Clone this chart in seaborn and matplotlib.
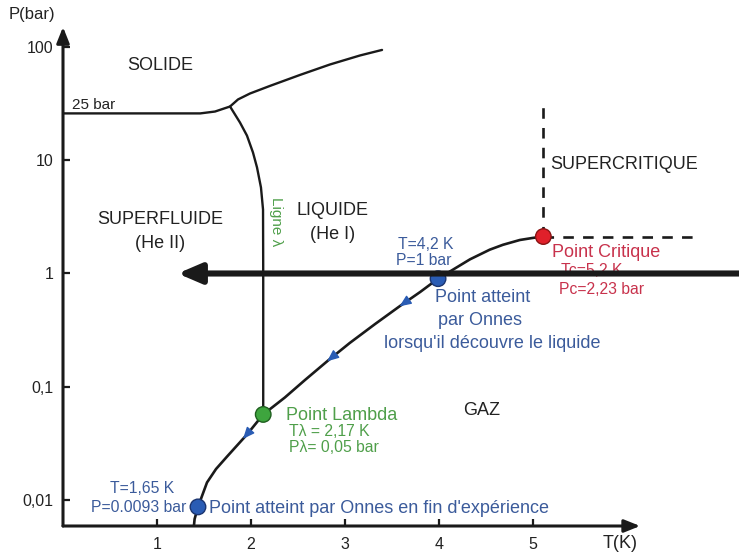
import matplotlib
matplotlib.use("Agg")
import matplotlib.pyplot as plt
from matplotlib.ticker import NullLocator, FixedLocator, FixedFormatter
import numpy as np
import pandas as pd
import seaborn as sns

# liquid/gas coexistence curve (T in K, P in bar)
vap_T = [1.39, 1.40, 1.436, 1.532, 1.628, 1.745, 1.957, 2.13, 2.36, 2.574, 2.82, 3.05,
         3.32, 3.585, 3.80, 3.99, 4.33, 4.54, 4.68, 4.86, 5.00, 5.11]
vap_P = [0.0056, 0.0068, 0.0087, 0.0143, 0.0188, 0.0242, 0.0379, 0.057, 0.0804, 0.1147,
         0.1706, 0.2434, 0.358, 0.5165, 0.687, 0.90, 1.334, 1.623, 1.792, 1.976, 2.062, 2.12]

# lambda line (He I / He II)
lam_T = [2.13, 2.13, 2.128, 2.106, 2.064, 2.021, 1.957, 1.883, 1.777]
lam_P = [0.057, 1.0, 3.67, 5.75, 8.63, 11.7, 16.5, 21.5, 29.8]

# melting curve (solid boundary)
melt_T = [0.0, 1.46, 1.617, 1.777, 1.862, 1.989, 2.202, 2.521, 2.840, 3.160, 3.394]
melt_P = [25.9, 25.9, 26.9, 29.8, 34.4, 38.8, 45.3, 56.6, 70.0, 84.1, 94.1]

# supercritical boundaries (dashed)
crit_T, crit_P = 5.11, 2.12
dash_top_P = 33.4
dash_right_T = 6.72

# remarkable points
pt_names = ["Onnes fin", "Onnes liquide", "Lambda", "Critique"]
pt_T = [1.436, 3.99, 2.13, 5.11]
pt_P = [0.0087, 0.90, 0.057, 2.12]
pt_colors = ["#2a5cb4", "#2a5cb4", "#3ea53e", "#e0202a"]
pt_edges = ["#1b3570", "#1b3570", "#1f5f1f", "#8a1414"]

# direction arrows drawn along the curve (cooling by pumping)
arrow_T = [1.915, 2.81, 3.58]

x_ticks = [1, 2, 3, 4, 5]
y_ticks = [100, 10, 1, 0.1, 0.01]
y_ticklabels = ["100", "10", "1", "0,1", "0,01"]

BLUE = "#3b5b9b"
GREEN = "#4f9f4a"
RED = "#c8324c"
INK = "#222222"


def main():
    sns.set_theme(style="white")
    plt.rcParams['font.family'] = ['Liberation Sans', 'DejaVu Sans']

    fig = plt.figure(figsize=(7.39, 5.54), dpi=100)
    ax = fig.add_axes([63 / 739, 1 - 526 / 554, 676 / 739, 499 / 554])
    ax.set_yscale('log')
    ybot, ytop = 10 ** -2.229, 10 ** 2.176
    ax.set_xlim(0, 676 / 94)
    ax.set_ylim(ybot, ytop)

    for s in ax.spines.values():
        s.set_visible(False)

    # curves
    sns.lineplot(x=vap_T, y=vap_P, sort=False, estimator=None, color='k', lw=1.9, ax=ax)
    sns.lineplot(x=lam_T, y=lam_P, sort=False, estimator=None, color='k', lw=1.7, ax=ax)
    sns.lineplot(x=melt_T, y=melt_P, sort=False, estimator=None, color='k', lw=1.7, ax=ax)
    ax.plot([crit_T, crit_T], [crit_P, dash_top_P], color='k', lw=1.9, ls=(0, (4, 3.5)))
    ax.plot([crit_T, dash_right_T], [crit_P, crit_P], color='k', lw=1.9, ls=(0, (4, 3.5)))

    # small blue arrows along the curve
    log_vap = np.log10(vap_P)
    for t in arrow_T:
        p_tip = 10 ** np.interp(t, vap_T, log_vap)
        p_tail = 10 ** np.interp(t + 0.07, vap_T, log_vap)
        ax.annotate('', xy=(t, p_tip), xytext=(t + 0.07, p_tail),
                    arrowprops=dict(arrowstyle='-|>,head_length=0.7,head_width=0.3',
                                    color='#2a5cb4', lw=1.0, mutation_scale=10,
                                    shrinkA=0, shrinkB=0), zorder=4)

    # points
    pts = pd.DataFrame({"name": pt_names, "T": pt_T, "P": pt_P})
    sns.scatterplot(data=pts, x="T", y="P", hue="name", palette=pt_colors,
                    s=125, edgecolor=pt_edges, linewidth=1.0, legend=False,
                    zorder=5, ax=ax)

    # axes arrows
    ax_arrow = dict(arrowstyle='-|>,head_length=0.95,head_width=0.38', color='k',
                    lw=2.2, mutation_scale=10, shrinkA=0, shrinkB=0)
    a = ax.annotate('', xy=(6.14, ybot), xytext=(0, ybot), arrowprops=ax_arrow,
                    annotation_clip=False)
    a.arrow_patch.set_clip_on(False)
    a = ax.annotate('', xy=(0, ytop), xytext=(0, ybot), arrowprops=ax_arrow,
                    annotation_clip=False)
    a.arrow_patch.set_clip_on(False)

    ax.xaxis.set_major_locator(FixedLocator(x_ticks))
    ax.yaxis.set_major_locator(FixedLocator(y_ticks))
    ax.yaxis.set_major_formatter(FixedFormatter(y_ticklabels))
    ax.yaxis.set_minor_locator(NullLocator())
    ax.xaxis.set_minor_locator(NullLocator())
    ax.tick_params(axis='both', direction='in', length=5, width=1.6, color='k',
                   labelsize=11.5, labelcolor=INK, left=True, bottom=True)
    ax.tick_params(axis='y', pad=7)
    ax.tick_params(axis='x', pad=8)
    ax.set_xlabel('')
    ax.set_ylabel('')

    fig.text(32 / 739, 1 - 15 / 554, "P(bar)", fontsize=12, color=INK, ha='center', va='center')
    fig.text(620 / 739, 1 - 543 / 554, "T(K)", fontsize=13, color=INK, ha='center', va='center')

    # region labels
    big = dict(fontsize=13, color=INK, va='center')
    ax.text(1.03, 68.7, "SOLIDE", ha='center', **big)
    ax.text(0.10, 31, "25 bar", ha='left', fontsize=11, color=INK, va='center')
    ax.text(1.03, 3.0, "SUPERFLUIDE", ha='center', **big)
    ax.text(1.03, 1.84, "(He II)", ha='center', **big)
    ax.text(2.87, 3.6, "LIQUIDE", ha='center', **big)
    ax.text(2.87, 2.21, "(He I)", ha='center', **big)
    ax.text(5.18, 9.17, "SUPERCRITIQUE", ha='left', **big)
    ax.text(4.45, 0.0617, "GAZ", ha='center', **big)
    ax.text(2.27, 2.88, "Ligne λ", rotation=-90, ha='center', va='center',
            fontsize=11, color=GREEN)

    # critical point
    ax.text(5.78, 1.53, "Point Critique", ha='center', va='center', fontsize=13, color=RED)
    ax.text(5.63, 1.06, "Tc=5,2 K", ha='center', va='center', fontsize=11.3, color=RED)
    ax.text(5.73, 0.72, "Pc=2,23 bar", ha='center', va='center', fontsize=11.3, color=RED)

    # Onnes, liquid
    ax.text(3.86, 1.80, "T=4,2 K", ha='center', va='center', fontsize=11.3, color=BLUE)
    ax.text(3.84, 1.30, "P=1 bar", ha='center', va='center', fontsize=11.3, color=BLUE)
    ax.text(4.46, 0.614, "Point atteint", ha='center', va='center', fontsize=13, color=BLUE)
    ax.text(4.44, 0.385, "par Onnes", ha='center', va='center', fontsize=13, color=BLUE)
    ax.text(4.57, 0.241, "lorsqu'il découvre le liquide", ha='center', va='center',
            fontsize=13, color=BLUE)

    # lambda point
    ax.text(2.37, 0.0557, "Point Lambda", ha='left', va='center', fontsize=13, color=GREEN)
    ax.text(2.40, 0.0403, "Tλ = 2,17 K", ha='left', va='center', fontsize=11.3, color=GREEN)
    ax.text(2.40, 0.0291, "Pλ= 0,05 bar", ha='left', va='center', fontsize=11.3, color=GREEN)

    # Onnes, end of experiment
    ax.text(0.84, 0.01264, "T=1,65 K", ha='center', va='center', fontsize=11.3, color=BLUE)
    ax.text(0.81, 0.00859, "P=0.0093 bar", ha='center', va='center', fontsize=11.3, color=BLUE)
    ax.text(1.55, 0.0084, "Point atteint par Onnes en fin d'expérience", ha='left',
            va='center', fontsize=13, color=BLUE)

    # thick black arrow at 1 bar
    a = ax.annotate('', xy=(1.22, 1.0), xytext=(7.4, 1.0),
                    arrowprops=dict(arrowstyle='-|>,head_length=1.4,head_width=0.6',
                                    color='k', lw=4.4, mutation_scale=10,
                                    shrinkA=0, shrinkB=0),
                    annotation_clip=False, zorder=6)
    a.arrow_patch.set_clip_on(False)

    fig.savefig("out.png", dpi=100)


if __name__ == "__main__":
    main()
